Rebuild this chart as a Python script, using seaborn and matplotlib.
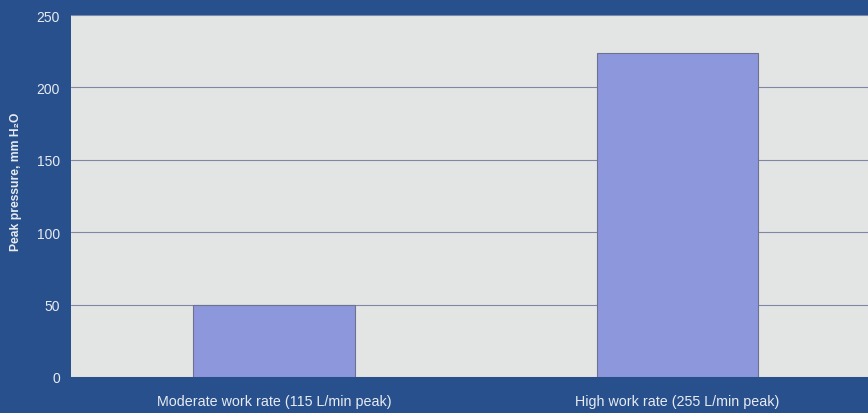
import matplotlib
matplotlib.use("Agg")
import matplotlib.pyplot as plt
import seaborn as sns
import pandas as pd

categories = ["Moderate work rate (115 L/min peak)", "High work rate (255 L/min peak)"]
peak_pressure = [50, 224]
y_ticks = [0, 50, 100, 150, 200, 250]

df = pd.DataFrame({"condition": categories, "pressure": peak_pressure})

sns.set_theme(style="white")
plt.rcParams["font.family"] = ["Liberation Sans", "DejaVu Sans"]

navy = "#27508d"
panel = "#e3e5e4"
bar_color = "#8d97dc"
text_color = "#e8ebf2"

fig = plt.figure(figsize=(8.68, 4.14), dpi=100, facecolor=navy)
ax = fig.add_axes([71 / 868, 36 / 414, 797 / 868, 362 / 414])
ax.set_facecolor(panel)

sns.barplot(data=df, x="condition", y="pressure", ax=ax, color=bar_color,
            width=0.4, edgecolor="#6d7290", linewidth=0.8, saturation=1, zorder=3)

ax.set_ylim(0, 250)
ax.set_xlim(-0.503, 1.472)
ax.set_yticks(y_ticks)
ax.yaxis.grid(True, color="#7f86a8", linewidth=0.8, zorder=1)
ax.set_axisbelow(True)
for s in ax.spines.values():
    s.set_visible(False)

ax.tick_params(axis="y", length=0, pad=8, labelsize=10, labelcolor=text_color)
ax.tick_params(axis="x", length=0, pad=12, labelsize=10.3, labelcolor=text_color)
ax.set_xlabel("")
ax.set_ylabel("Peak pressure, mm H₂O", color=text_color, fontsize=8.7,
              fontweight="bold")
ax.yaxis.set_label_coords((22 - 71) / 797, 0.541)

fig.savefig("out.png", dpi=100, facecolor=navy)
